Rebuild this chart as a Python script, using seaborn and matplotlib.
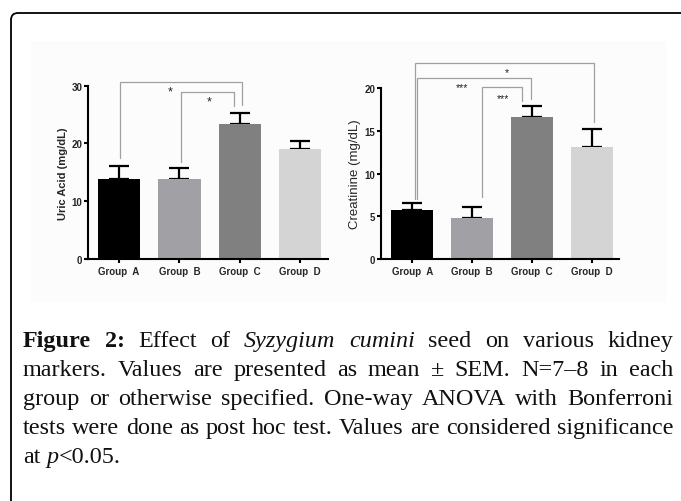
import re
import matplotlib
matplotlib.use("Agg")
import matplotlib.pyplot as plt
import matplotlib.transforms as mtransforms
from matplotlib.patches import FancyBboxPatch, Rectangle
import seaborn as sns
import pandas as pd

# ---------------- data ----------------
groups = ["Group  A", "Group  B", "Group  C", "Group  D"]
uric_mean = [13.8, 13.8, 23.4, 19.1]
uric_sem = [2.3, 1.9, 1.8, 1.4]
creat_mean = [5.78, 4.84, 16.65, 13.1]
creat_sem = [0.8, 1.22, 1.3, 2.15]
bar_colors = ["#000000", "#a1a1a5", "#808080", "#d4d4d4"]

# significance labels (pair, label)
uric_sig_labels = ["*", "*"]
creat_sig_labels = ["*", "***", "***"]

caption_lines = [
    "**Figure** **2:** Effect of _Syzygium_ _cumini_ seed on various kidney",
    "markers. Values are presented as mean ± SEM. N=7–8 in each",
    "group or otherwise specified. One-way ANOVA with Bonferroni",
    "tests were done as post hoc test. Values are considered significance",
    "at _p_<0.05.",
]

# ---------------- layout (annotation geometry) ----------------
# bracket: x_left, x_right, y_top, y_left_bottom, y_right_bottom, star_x, star_y
uric_brackets = [
    (0.02, 2.03, 30.57, 17.47, 26.7, 0.85, 29.0),
    (1.03, 1.906, 28.84, 16.78, 26.52, 1.49, 27.3),
]
creat_brackets = [
    (0.04, 3.04, 22.93, 7.03, 16.0, 1.59, 21.9),
    (0.084, 1.99, 21.2, 7.03, 18.75, 0.83, 20.2),
    (1.166, 1.84, 20.12, 7.26, 18.55, 1.52, 18.9),
]

W, H, DPI = 681, 502, 100
sns.set_style("ticks")
plt.rcParams["font.family"] = ["Liberation Sans", "DejaVu Sans"]

fig = plt.figure(figsize=(W / DPI, H / DPI), dpi=DPI)

# very faint panel background of the embedded figure image
bg = Rectangle((31, H - 303), 666 - 31, 303 - 42, transform=mtransforms.IdentityTransform(),
               facecolor="#fcfcfc", edgecolor="none", zorder=-10)
fig.patches.append(bg)
bg.set_figure(fig)


def px_axes(x0, x1, ytop, ybot):
    return fig.add_axes([x0 / W, 1 - ybot / H, (x1 - x0) / W, (ybot - ytop) / H])


ax1 = px_axes(87.7, 328.0, 86.7, 260.0)
ax2 = px_axes(381.0, 619.3, 89.3, 260.0)


def draw_panel(ax, means, sems, ylim, yticks, ylabel, ylabel_weight, ylabel_size,
               brackets, labels, star_size):
    df = pd.DataFrame({"group": groups, "value": means})
    sns.barplot(data=df, x="group", y="value", hue="group", palette=bar_colors,
                width=0.7, errorbar=None, legend=False, ax=ax, saturation=1,
                linewidth=0, zorder=2)
    ax.errorbar(range(len(groups)), means, yerr=[[0] * len(sems), sems], fmt="none",
                ecolor="black", elinewidth=1.6, capsize=7.4, capthick=1.6, zorder=1)
    ax.set_xlim(-0.52, 3.46)
    ax.set_ylim(*ylim)
    ax.set_yticks(yticks)
    ax.set_xlabel("")
    ax.set_ylabel(ylabel, fontsize=ylabel_size, fontweight=ylabel_weight, labelpad=2.5)
    for s in ["top", "right"]:
        ax.spines[s].set_visible(False)
    for s in ["left", "bottom"]:
        ax.spines[s].set_linewidth(1.5)
        ax.spines[s].set_color("black")
    ax.tick_params(axis="both", direction="out", length=2.8, width=1.5, color="black")
    ax.tick_params(axis="x", labelsize=7.0, pad=2.0)
    ax.tick_params(axis="y", labelsize=7.0, pad=1.2)
    for t in ax.get_xticklabels() + ax.get_yticklabels():
        t.set_fontweight("bold")
    for (xl, xr, yt, ylb, yrb, sx, sy), lab in zip(brackets, labels):
        ax.plot([xl, xl, xr, xr], [ylb, yt, yt, yrb], color="#a0a0a0", lw=0.9,
                clip_on=False, zorder=0, solid_joinstyle="miter")
        ax.text(sx, sy, lab, ha="center", va="center", fontsize=star_size,
                color="#222222", clip_on=False)
    ax.set_facecolor("none")


draw_panel(ax1, uric_mean, uric_sem, (0, 30), [0, 10, 20, 30], "Uric Acid (mg/dL)",
           "bold", 8, uric_brackets, uric_sig_labels, 9)
draw_panel(ax2, creat_mean, creat_sem, (0, 20), [0, 5, 10, 15, 20], "Creatinine (mg/dL)",
           "normal", 9.5, creat_brackets, creat_sig_labels, 7.5)

# ---------------- frame ----------------
frame = FancyBboxPatch((11, -30), 720, H - 14 + 30,
                       boxstyle="round,pad=0,rounding_size=7",
                       transform=mtransforms.IdentityTransform(),
                       facecolor="none", edgecolor="black", linewidth=1.3)
fig.patches.append(frame)
frame.set_figure(fig)

# ---------------- caption (justified) ----------------
renderer = fig.canvas.get_renderer()
SERIF = ["Liberation Serif", "DejaVu Serif"]


def parse_word(word):
    runs = []
    for m in re.finditer(r"\*\*(.+?)\*\*|_(.+?)_|([^*_]+)", word):
        if m.group(1):
            runs.append((m.group(1), "bold", "normal"))
        elif m.group(2):
            runs.append((m.group(2), "normal", "italic"))
        else:
            runs.append((m.group(3), "normal", "normal"))
    return runs


def text_width(s, fs, weight="normal", style="normal"):
    t = fig.text(0, 0, s, fontsize=fs, family=SERIF, fontweight=weight, fontstyle=style)
    w = t.get_window_extent(renderer).width
    t.remove()
    return w


def line_words(line):
    return [parse_word(w) for w in line.split(" ")]


def natural_width(line, fs):
    words = line_words(line)
    ws = sum(text_width(r[0], fs, r[1], r[2]) for w in words for r in w)
    sp = text_width("a a", fs) - text_width("aa", fs)
    return ws + sp * (len(words) - 1)


x_left, x_right = 23.0, 673.0
baselines = [347, 376, 405, 434, 463]
fs0 = 16.0
nw = natural_width(caption_lines[3], fs0)
fs = fs0 * (x_right - x_left - 2) / nw

for i, (line, yb) in enumerate(zip(caption_lines, baselines)):
    words = line_words(line)
    widths = [[text_width(r[0], fs, r[1], r[2]) for r in w] for w in words]
    total = sum(sum(w) for w in widths)
    if i < len(caption_lines) - 1 and len(words) > 1:
        gap = (x_right - x_left - total) / (len(words) - 1)
    else:
        gap = text_width("a a", fs) - text_width("aa", fs)
    x = x_left
    for w, wl in zip(words, widths):
        for r, rw in zip(w, wl):
            fig.text(x / W, 1 - yb / H, r[0], fontsize=fs, family=SERIF,
                     fontweight=r[1], fontstyle=r[2], ha="left", va="baseline",
                     color="#111111")
            x += rw
        x += gap

fig.savefig("out.png", dpi=DPI)
